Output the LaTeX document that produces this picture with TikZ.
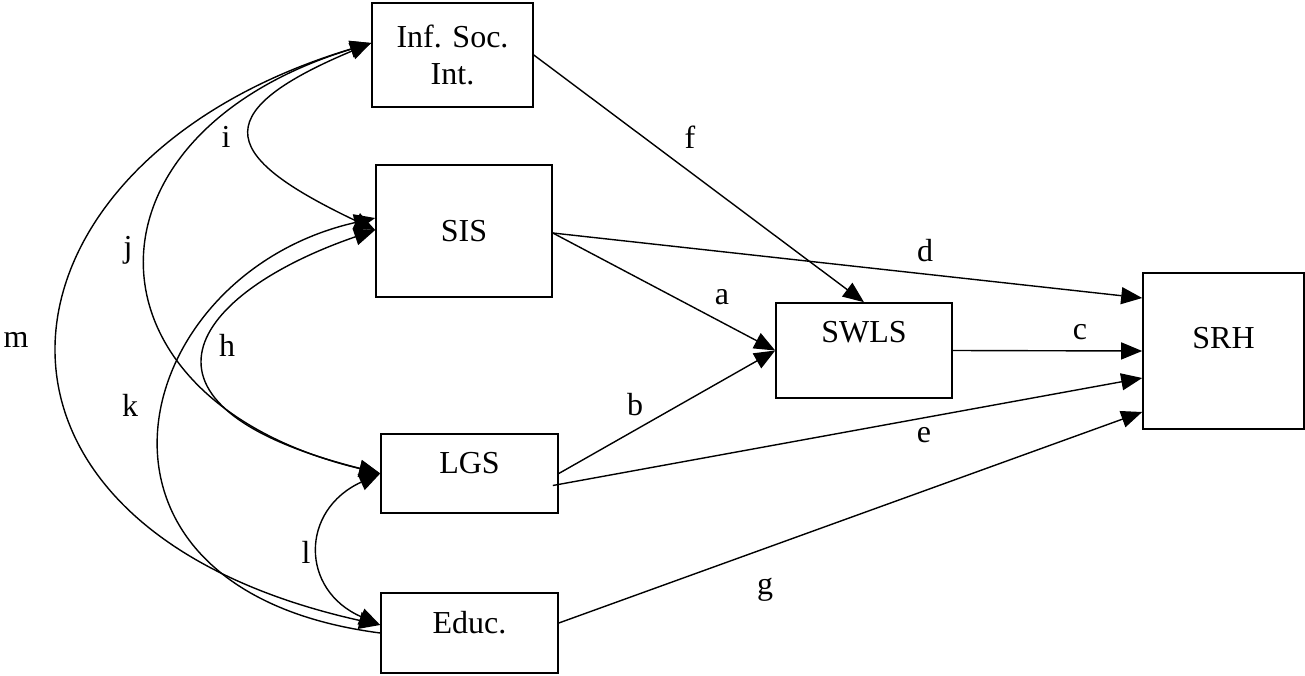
\documentclass[tikz,border=0pt]{standalone}
\usepackage{fontspec}
\setmainfont{Liberation Serif}
\usetikzlibrary{arrows.meta}
\begin{document}
\begin{tikzpicture}[x=1pt,y=-1pt,
  >={Triangle[length=21pt,width=17pt]},
  box/.style={draw,line width=1.6pt,inner sep=0pt,font=\fontsize{32}{37}\selectfont,align=center},
  lbl/.style={inner sep=0pt,font=\fontsize{32}{37}\selectfont},
  con/.style={line width=1.4pt}]
\useasboundingbox (0,0) rectangle (1305,676);
% boxes
\node[box,minimum width=161pt,minimum height=104pt] (inf) at (452.5,55) {Inf. Soc.\\Int.};
\node[box,minimum width=176pt,minimum height=132pt] (sis) at (464,231) {SIS};
\node[box,minimum width=176pt,minimum height=95pt] (swls) at (864,350.5) {\raisebox{18pt}[\height][\depth]{SWLS}};
\node[box,minimum width=161pt,minimum height=156pt] (srh) at (1223.5,351) {\raisebox{13pt}[\height][\depth]{SRH}};
\node[box,minimum width=177pt,minimum height=79pt] (lgs) at (469.5,473.5) {\raisebox{10pt}[\height][\depth]{LGS}};
\node[box,minimum width=177pt,minimum height=80pt] (educ) at (469.5,633) {\raisebox{10pt}[\height][\depth]{Educ.}};
% ports
\coordinate (infP) at ([yshift=12pt]inf.west);
\coordinate (sisA) at ([yshift=13pt]sis.west);
\coordinate (sisB) at ([yshift=1pt]sis.west);
\coordinate (sisR) at ([yshift=-2pt]sis.east);
\coordinate (lgsE) at ([yshift=-12pt,xshift=-6pt]lgs.east);
\coordinate (educA) at ([yshift=8pt]educ.west);
\coordinate (educE) at ([yshift=10pt]educ.east);
\coordinate (srhD) at ([yshift=53pt]srh.west);
\coordinate (srhE) at ([yshift=-27pt]srh.west);
\coordinate (srhG) at ([yshift=-61pt]srh.west);
% straight paths
\draw[con,->] (inf.east) -- (swls.north);
\draw[con,->] (sisR) -- (srhD);
\draw[con,->] (sisR) -- (swls.west);
\draw[con,->] (swls.east) -- (srh.west);
\draw[con,->] (lgs.east) -- (swls.west);
\draw[con,->] (lgsE) -- (srhE);
\draw[con,->] (educE) -- (srhG);
% correlations
\draw[con,<->] (infP) .. controls (199,115) and (226,159) .. (sisB);
\draw[con,<->] (infP) .. controls (70,135) and (75,400) .. (lgs.west);
\draw[con,<->] (infP) .. controls (-20,160) and (-70,525) .. (educA);
\draw[con,<->] (sisB) .. controls (192,293) and (109,405) .. (lgs.west);
\draw[con,->] (educ.west) .. controls (50,590) and (125,275) .. (sisA);
\draw[con,<->] (lgs.west) .. controls (300,510) and (300,590) .. (educA);
% labels
\node[lbl] (la) at (722,297) {a};
\node[lbl] (lb) at (635,405) {b};
\node[lbl] (lc) at (1080,332) {c};
\node[lbl] (ld) at (925,251) {d};
\node[lbl] (le) at (924,435) {e};
\node[lbl] (lf) at (690,137) {f};
\node[lbl] (lg) at (765,590) {g};
\node[lbl] (lh) at (227,345) {h};
\node[lbl] (li) at (226,137) {i};
\node[lbl] (lj) at (128,250) {j};
\node[lbl] (lk) at (130,405) {k};
\node[lbl] (ll) at (306,552) {l};
\node[lbl] (lm) at (16,340) {m};
\end{tikzpicture}
\end{document}
